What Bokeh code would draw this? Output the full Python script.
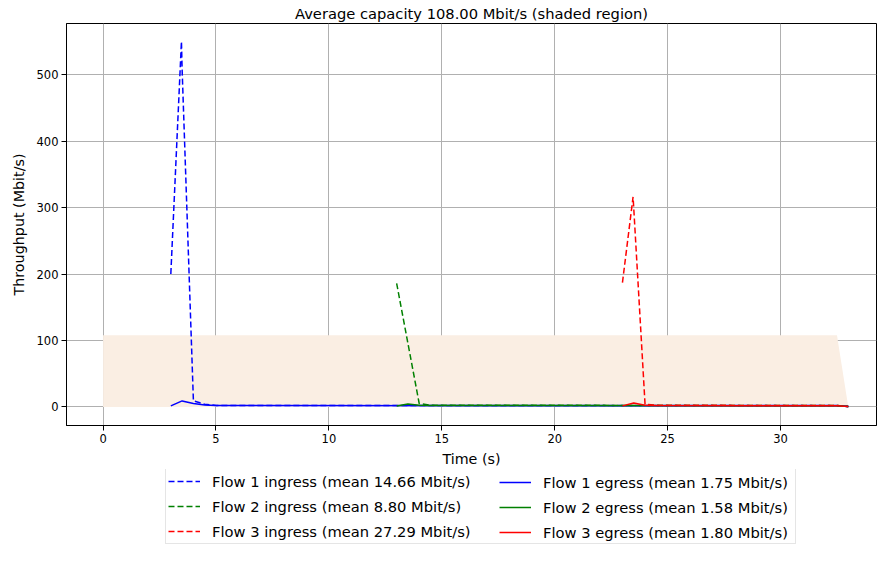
from bokeh.plotting import figure
from bokeh.layouts import column
from bokeh.models import Range1d, Legend, LegendItem
from bokeh.embed import file_html
from bokeh.resources import INLINE

# ---- data ----
cap_t = [0.0, 32.5, 33.0]
cap_v = [108.0, 108.0, 0.0]

f1_in_t = [3.0, 3.47, 3.5, 4.0, 4.5, 5.0, 32.5, 33.0]
f1_in_v = [200.0, 550.0, 508.0, 9.0, 4.0, 2.2, 2.0, 0.5]
f1_out_t = [3.0, 3.5, 4.0, 4.5, 5.0, 32.5, 33.0]
f1_out_v = [1.5, 9.0, 5.0, 3.0, 2.0, 1.8, 0.5]

f2_in_t = [13.0, 14.0, 14.5, 32.5, 33.0]
f2_in_v = [186.0, 5.0, 2.5, 2.0, 0.5]
f2_out_t = [13.0, 13.5, 14.0, 14.5, 32.5, 33.0]
f2_out_v = [1.5, 4.5, 2.5, 2.0, 1.8, 0.5]

f3_in_t = [23.0, 23.47, 23.5, 24.0, 24.5, 32.5, 33.0]
f3_in_v = [187.0, 316.0, 299.0, 4.0, 2.5, 2.0, 0.5]
f3_out_t = [23.0, 23.5, 24.0, 24.5, 32.5, 33.0]
f3_out_v = [1.5, 6.0, 2.5, 2.0, 1.8, 0.5]

x_ticks = [0, 5, 10, 15, 20, 25, 30]
y_ticks = [0, 100, 200, 300, 400, 500]

labels_in = ["Flow 1 ingress (mean 14.66 Mbit/s)",
             "Flow 2 ingress (mean 8.80 Mbit/s)",
             "Flow 3 ingress (mean 27.29 Mbit/s)"]
labels_out = ["Flow 1 egress (mean 1.75 Mbit/s)",
              "Flow 2 egress (mean 1.58 Mbit/s)",
              "Flow 3 egress (mean 1.80 Mbit/s)"]
colors = ["#0000ff", "#008000", "#ff0000"]

FONT = "DejaVu Sans"
W = 877
BL, BR = 66, 1

in_data = [(f1_in_t, f1_in_v), (f2_in_t, f2_in_v), (f3_in_t, f3_in_v)]
out_data = [(f1_out_t, f1_out_v), (f2_out_t, f2_out_v), (f3_out_t, f3_out_v)]

# ---------------- main plot ----------------
p = figure(width=W, height=469, output_backend="svg", toolbar_location=None,
           x_range=Range1d(-1.62, 34.25), y_range=Range1d(-28, 577),
           title="Average capacity 108.00 Mbit/s (shaded region)",
           min_border_left=BL, min_border_right=BR, min_border_top=0,
           min_border_bottom=0)

p.title.align = "center"
p.title.text_font = FONT
p.title.text_font_size = "14.7px"
p.title.text_font_style = "normal"
p.title.text_color = "black"
p.title.standoff = 4

p.outline_line_color = "black"
p.outline_line_width = 1
p.outline_line_alpha = 1

for ax in (p.xaxis[0], p.yaxis[0]):
    ax.axis_line_color = "black"
    ax.major_tick_line_color = "black"
    ax.major_tick_out = 5
    ax.major_tick_in = 0
    ax.minor_tick_line_color = None
    ax.major_label_text_font = FONT
    ax.major_label_text_font_size = "11.5px"
    ax.major_label_text_color = "black"
    ax.axis_label_text_font = FONT
    ax.axis_label_text_font_size = "14.3px"
    ax.axis_label_text_font_style = "normal"
    ax.axis_label_text_color = "black"

p.xaxis.axis_label = "Time (s)"
p.yaxis.axis_label = "Throughput (Mbit/s)"
p.xaxis.ticker = x_ticks
p.yaxis.ticker = y_ticks
p.xaxis.major_label_standoff = 3
p.yaxis.major_label_standoff = 3
p.xaxis.axis_label_standoff = 5
p.yaxis.axis_label_standoff = 7

p.xgrid.grid_line_color = "#b0b0b0"
p.ygrid.grid_line_color = "#b0b0b0"
p.xgrid.grid_line_width = 1
p.ygrid.grid_line_width = 1

# capacity shading
p.varea(x=cap_t, y1=[0] * len(cap_t), y2=cap_v, fill_color="#faeee3", fill_alpha=1)

for (t, v), c in zip(in_data, colors):
    p.line(t, v, line_color=c, line_width=1.5, line_dash="6 3")
for (t, v), c in zip(out_data, colors):
    p.line(t, v, line_color=c, line_width=1.5)

# ---------------- legend panel ----------------
lg = figure(width=W, height=76, output_backend="svg", toolbar_location=None,
            x_range=Range1d(100, 101), y_range=Range1d(100, 101),
            x_axis_location=None, y_axis_location=None,
            min_border_left=BL, min_border_right=BR,
            min_border_top=0, min_border_bottom=0)
lg.grid.visible = False
lg.outline_line_color = None
lg.background_fill_color = "white"
lg.border_fill_color = "white"

items_in = []
items_out = []
for (t, v), c, lab in zip(in_data, colors, labels_in):
    r = lg.line(t, v, line_color=c, line_width=1.5, line_dash="6 3")
    items_in.append(LegendItem(label=lab, renderers=[r]))
for (t, v), c, lab in zip(out_data, colors, labels_out):
    r = lg.line(t, v, line_color=c, line_width=1.5)
    items_out.append(LegendItem(label=lab, renderers=[r]))


def make_legend(items, loc, pad, label_w, border):
    leg = Legend(items=items, location=loc, orientation="vertical")
    leg.label_text_font = FONT
    leg.label_text_font_size = "14.7px"
    leg.label_text_color = "black"
    leg.glyph_width = 32
    leg.glyph_height = 20
    leg.label_height = 20
    leg.label_width = label_w
    leg.label_standoff = 12
    leg.spacing = 5
    leg.padding = pad
    leg.margin = 0
    leg.border_line_color = "#cccccc" if border else None
    leg.border_line_width = 1
    leg.background_fill_color = "white"
    leg.background_fill_alpha = 1 if border else 0
    return leg


# outer box (ingress column) + egress column placed inside it
lg.add_layout(make_legend(items_in, (165 - BL, 1), 2, 581, True), "center")
lg.add_layout(make_legend(items_out, (499 - BL, 3), 0, 20, False), "center")

layout = column(p, lg, spacing=0)
open("out.html", "w").write(file_html(layout, INLINE))
